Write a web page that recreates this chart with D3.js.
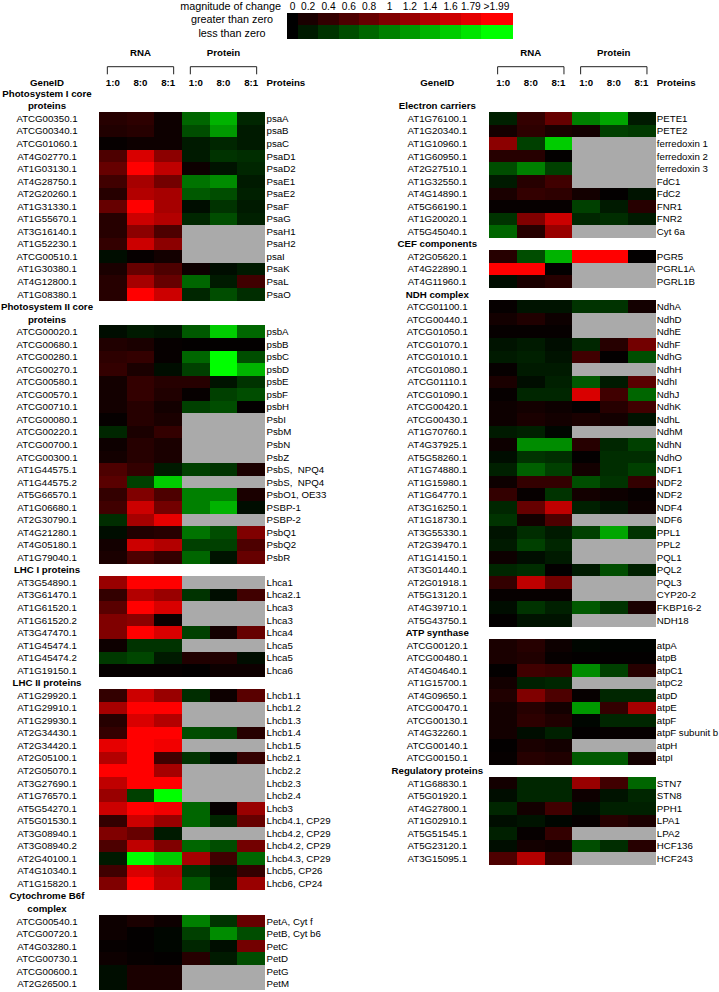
<!DOCTYPE html>
<html>
<head>
<meta charset="utf-8">
<script src="https://cdnjs.cloudflare.com/ajax/libs/d3/7.8.5/d3.min.js"></script>
<style>
  body { margin: 0; background: #fff; }
  text { font-family: "Liberation Sans", Arial, sans-serif; fill: #000; }
</style>
</head>
<body>
<div id="chart"></div>
<script>
// legend
const legendLabels = ["0", "0.2", "0.4", "0.6", "0.8", "1", "1.2", "1.4", "1.6", "1.79", ">1.99"];
const legendValues = [0, 0.2, 0.4, 0.6, 0.8, 1, 1.2, 1.4, 1.6, 1.79, 2];
const conditions = ["1:0", "8:0", "8:1"];

// left panel
const leftTitles = [["Photosystem I core", "proteins"], ["Photosystem II core", "proteins"], ["LHC I proteins"], ["LHC II proteins"], ["Cytochrome B6f", "complex"]];
const leftSizes = [15, 19, 8, 16, 6];
const leftGenes = [
  "ATCG00350.1", "ATCG00340.1", "ATCG01060.1", "AT4G02770.1", "AT1G03130.1", "AT4G28750.1", "AT2G20260.1", "AT1G31330.1", "AT1G55670.1", "AT3G16140.1", "AT1G52230.1", "ATCG00510.1", "AT1G30380.1", "AT4G12800.1", "AT1G08380.1",
  "ATCG00020.1", "ATCG00680.1", "ATCG00280.1", "ATCG00270.1", "ATCG00580.1", "ATCG00570.1", "ATCG00710.1", "ATCG00080.1", "ATCG00220.1", "ATCG00700.1", "ATCG00300.1", "AT1G44575.1", "AT1G44575.2", "AT5G66570.1", "AT1G06680.1", "AT2G30790.1", "AT4G21280.1", "AT4G05180.1", "AT1G79040.1",
  "AT3G54890.1", "AT3G61470.1", "AT1G61520.1", "AT1G61520.2", "AT3G47470.1", "AT1G45474.1", "AT1G45474.2", "AT1G19150.1",
  "AT1G29920.1", "AT1G29910.1", "AT1G29930.1", "AT2G34430.1", "AT2G34420.1", "AT2G05100.1", "AT2G05070.1", "AT3G27690.1", "AT1G76570.1", "AT5G54270.1", "AT5G01530.1", "AT3G08940.1", "AT3G08940.2", "AT2G40100.1", "AT4G10340.1", "AT1G15820.1",
  "ATCG00540.1", "ATCG00720.1", "AT4G03280.1", "ATCG00730.1", "ATCG00600.1", "AT2G26500.1"
];
const leftNames = [
  "psaA", "psaB", "psaC", "PsaD1", "PsaD2", "PsaE1", "PsaE2", "PsaF", "PsaG", "PsaH1", "PsaH2", "psaI", "PsaK", "PsaL", "PsaO",
  "psbA", "psbB", "psbC", "psbD", "psbE", "psbF", "psbH", "PsbI", "PsbM", "PsbN", "PsbZ", "PsbS,  NPQ4", "PsbS,  NPQ4", "PsbO1, OE33", "PSBP-1", "PSBP-2", "PsbQ1", "PsbQ2", "PsbR",
  "Lhca1", "Lhca2.1", "Lhca3", "Lhca3", "Lhca4", "Lhca5", "Lhca5", "Lhca6",
  "Lhcb1.1", "Lhcb1.2", "Lhcb1.3", "Lhcb1.4", "Lhcb1.5", "Lhcb2.1", "Lhcb2.2", "Lhcb2.3", "Lhcb2.4", "Lhcb3", "Lhcb4.1, CP29", "Lhcb4.2, CP29", "Lhcb4.2, CP29", "Lhcb4.3, CP29", "Lhcb5, CP26", "Lhcb6, CP24",
  "PetA, Cyt f", "PetB, Cyt b6", "PetC", "PetD", "PetG", "PetM"
];
const leftRna = [
  [0.3, 0.35, 0.1], [0.25, 0.3, 0.1], [0.05, 0.1, 0.1], [0.6, 1.7, 1.1], [0.8, 2.0, 1.5], [0.5, 1.3, 0.9], [0.3, 1.4, 1.3], [0.8, 2.0, 1.3], [0.3, 1.6, 1.4], [0.3, 1.1, 0.6], [0.4, 1.6, 1.1], [-0.1, 0.05, 0.15], [0.2, 0.8, 0.6], [0.3, 1.3, 0.8], [0.3, 2.0, 1.6],
  [-0.1, -0.2, -0.15], [0.25, 0.2, 0.05], [0.35, 0.4, 0.05], [0.4, 0.2, -0.1], [0.15, 0.4, 0.3], [0.15, 0.4, 0.25], [0.15, 0.3, 0.15], [0.05, 0.3, 0.2], [-0.3, 0.2, 0.4], [0.1, 0.3, 0.2], [0.15, 0.3, 0.2], [0.6, 0.4, -0.2], [0.7, -0.5, -1.6], [0.4, 1.0, 0.6], [0.5, 1.6, 0.9], [-0.35, 1.3, 1.8], [-0.1, 0.25, 0.3], [0.15, 1.6, 1.4], [0.2, 0.6, 0.4],
  [1.2, 2.0, 2.0], [0.4, 1.4, 1.2], [0.7, 2.0, 1.7], [1.0, 1.1, 0.1], [1.0, 2.0, 1.7], [0.1, -0.4, -0.4], [-0.45, -0.55, -0.2], [0.05, 0.05, 0.05],
  [0.4, 1.6, 1.2], [1.3, 2.0, 2.0], [0.3, 1.7, 1.4], [0.4, 2.0, 2.0], [1.8, 2.0, 1.9], [1.4, 2.0, 0.5], [2.0, 2.0, 1.3], [1.5, 2.0, 2.0], [1.2, -0.5, -2.0], [1.6, 2.0, 1.9], [0.4, 1.6, 1.2], [1.0, 0.8, -0.2], [0.6, 1.5, 1.0], [-0.2, -2.0, -1.6], [0.5, 1.7, 1.4], [1.0, 2.0, 1.5],
  [0.1, 0.2, 0.1], [0.1, 0.02, -0.05], [0.05, 0.02, -0.05], [0.1, 0.05, 0.02], [-0.1, 0.2, 0.2], [-0.1, 0.2, 0.2]
];
const leftProtein = [
  [-0.8, -1.4, -0.3], [-0.6, -1.2, -0.2], [-0.2, -0.3, -0.2], [-0.2, -0.4, -0.35], [0.1, -0.15, -0.3], [-0.9, -1.1, -0.2], [-0.7, -0.6, -0.25], [-0.1, -0.4, -0.2], [-0.3, -0.6, -0.25], null, null, null, [0.1, -0.1, -0.2], [-0.8, -0.2, 0.5], [-0.3, -0.6, -0.35],
  [-0.7, -1.6, -0.8], [0.02, 0.02, 0.02], [-0.8, -2.0, -0.6], [-0.5, -2.0, -1.4], [0.3, -0.15, -0.4], [0.05, -0.5, -0.6], [-0.5, -0.6, 0.02], null, null, null, null, [-0.5, -0.4, 0.2], null, [-1.0, -1.0, 0.2], [-1.0, -1.4, -0.1], null, [-0.9, -0.6, 1.0], [-0.5, -0.5, 0.6], [-0.8, -0.15, 0.8],
  null, [-0.4, -0.1, 0.5], null, null, [-0.5, 0.15, 0.8], null, [0.25, 0.25, -0.1], [0.02, 0.1, 0.1],
  [-0.35, 0.1, 0.7], null, null, [-0.6, -0.5, 0.3], null, [-0.4, -0.05, 0.4], null, null, null, [-0.8, 0.05, 1.2], [-0.8, -0.3, 0.8], null, [-0.8, -0.6, 0.9], [1.3, 0.5, -0.8], [-0.4, -0.15, 0.4], [-0.7, -0.2, 1.2],
  [-1.0, -0.4, 0.8], [-0.5, -1.1, -0.6], [-0.3, -0.1, 0.9], [0.3, -0.2, -0.6], null, null
];

// right panel
const rightTitles = [["Electron carriers"], ["CEF components"], ["NDH complex"], ["ATP synthase"], ["Regulatory proteins"]];
const rightSizes = [10, 3, 26, 10, 7];
const rightGenes = [
  "AT1G76100.1", "AT1G20340.1", "AT1G10960.1", "AT1G60950.1", "AT2G27510.1", "AT1G32550.1", "AT4G14890.1", "AT5G66190.1", "AT1G20020.1", "AT5G45040.1",
  "AT2G05620.1", "AT4G22890.1", "AT4G11960.1",
  "ATCG01100.1", "ATCG00440.1", "ATCG01050.1", "ATCG01070.1", "ATCG01010.1", "ATCG01080.1", "ATCG01110.1", "ATCG01090.1", "ATCG00420.1", "ATCG00430.1", "AT1G70760.1", "AT4G37925.1", "AT5G58260.1", "AT1G74880.1", "AT1G15980.1", "AT1G64770.1", "AT3G16250.1", "AT1G18730.1", "AT3G55330.1", "AT2G39470.1", "AT1G14150.1", "AT3G01440.1", "AT2G01918.1", "AT5G13120.1", "AT4G39710.1", "AT5G43750.1",
  "ATCG00120.1", "ATCG00480.1", "AT4G04640.1", "AT1G15700.1", "AT4G09650.1", "ATCG00470.1", "ATCG00130.1", "AT4G32260.1", "ATCG00140.1", "ATCG00150.1",
  "AT1G68830.1", "AT5G01920.1", "AT4G27800.1", "AT1G02910.1", "AT5G51545.1", "AT5G23120.1", "AT3G15095.1"
];
const rightNames = [
  "PETE1", "PETE2", "ferredoxin 1", "ferredoxin 2", "ferredoxin 3", "FdC1", "FdC2", "FNR1", "FNR2", "Cyt 6a",
  "PGR5", "PGRL1A", "PGRL1B",
  "NdhA", "NdhD", "NdhE", "NdhF", "NdhG", "NdhH", "NdhI", "NdhJ", "NdhK", "NdhL", "NdhM", "NdhN", "NdhO", "NDF1", "NDF2", "NDF2", "NDF4", "NDF6", "PPL1", "PPL2", "PQL1", "PQL2", "PQL3", "CYP20-2", "FKBP16-2", "NDH18",
  "atpA", "atpB", "atpC1", "atpC2", "atpD", "atpE", "atpF", "atpF subunit b", "atpH", "atpI",
  "STN7", "STN8", "PPH1", "LPA1", "LPA2", "HCF136", "HCF243"
];
const rightRna = [
  [-0.25, 0.4, 0.8], [0.15, 0.35, 0.2], [1.1, -0.5, -1.6], [0.3, 0.3, 0.02], [-0.6, -1.0, -0.5], [-0.2, 0.3, 0.5], [0.2, 0.4, 0.35], [0.05, 0.05, 0.05], [-0.4, 1.0, 1.6], [-0.8, 0.3, 1.2],
  [0.3, -0.6, -1.4], [2.0, 2.0, 0.02], [-0.1, 0.2, 0.3],
  [0.05, -0.15, -0.15], [0.15, 0.25, 0.1], [0.05, 0.05, 0.05], [-0.15, -0.2, -0.1], [-0.2, -0.25, -0.15], [0.05, -0.2, -0.2], [0.2, -0.1, -0.25], [0.05, -0.3, -0.3], [0.1, 0.15, 0.1], [0.1, 0.2, 0.15], [-0.2, -0.25, -0.05], [0.1, -1.1, -1.1], [-0.1, -0.4, -0.35], [-0.25, -0.75, -0.5], [0.1, 0.4, 0.4], [0.4, 0.05, -0.4], [-0.3, 0.8, 1.5], [-0.4, 0.15, 0.6], [-0.15, -0.35, -0.2], [-0.2, -0.5, -0.3], [0.1, -0.1, -0.2], [-0.3, -0.35, 0.02], [0.4, 1.5, 0.9], [0.05, 0.05, 0.05], [-0.1, -0.4, -0.25], [0.02, -0.15, -0.15],
  [0.2, 0.3, 0.1], [0.2, 0.25, 0.05], [0.02, 0.5, 0.45], [0.15, -0.25, -0.3], [0.25, 1.0, 0.6], [0.15, 0.3, 0.15], [0.15, 0.35, 0.25], [0.15, -0.1, -0.25], [0.02, 0.2, 0.15], [0.05, 0.3, 0.25],
  [0.15, -0.3, -0.3], [-0.1, -0.3, -0.3], [-0.3, 0.15, 0.5], [-0.1, -0.15, -0.05], [-0.25, 0.05, 0.4], [-0.1, 0.15, 0.1], [0.6, 1.4, 0.4]
];
const rightProtein = [
  [-1.0, -1.3, -0.2], [0.15, -0.5, -0.45], null, null, null, null, [0.15, 0.02, -0.15], [-0.5, -0.2, 0.3], [-0.3, -0.35, -0.2], null,
  [2.0, 2.0, 0.02], null, null,
  [-0.4, -0.4, 0.15], null, null, [-0.3, 0.3, 0.9], [0.5, 0.02, -0.6], null, [-0.7, -0.2, 0.7], [1.7, 0.5, -0.8], [0.02, 0.3, 0.5], [0.2, 0.15, -0.15], null, [0.3, -0.3, -0.5], [0.02, -0.35, -0.35], [0.15, -0.35, -0.5], [-0.6, -0.4, 0.4], [0.15, 0.1, 0.05], [-0.25, -0.15, 0.1], null, [-0.5, -1.3, -0.4], null, null, [-0.2, -0.6, -0.25], null, null, [-0.7, -0.4, 0.2], null,
  [-0.05, -0.02, -0.02], [0.02, 0.02, 0.02], [-1.1, -0.5, 0.3], null, [0.05, -0.3, -0.3], [-1.2, 0.4, 1.3], [-0.05, -0.3, -0.3], [0.02, 0.05, 0.05], null, [-0.7, -0.7, 0.15],
  [1.2, 0.5, -0.8], [0.1, -0.15, -0.3], [-0.1, -0.25, -0.25], [0.05, 0.3, 0.2], null, [-0.6, -0.35, 0.3], null
];

(function() {
    var width = 719, height = 992;
    var rowH = 12.54, gridTop = 87.2, nLines = 72;
    var fontSize = 9.7;

    var svg = d3.select("#chart").append("svg")
        .attr("width", width)
        .attr("height", height);

    var color = d3.scaleLinear()
        .domain([-2, 0, 2])
        .range(["#00ff00", "#000000", "#ff0000"])
        .clamp(true);

    var y = d3.scaleBand()
        .domain(d3.range(nLines))
        .range([gridTop, gridTop + nLines * rowH]);

    // ---- legend ----
    // cell edges: narrow first step, wide last step, even in between
    var edge = d3.scaleLinear().domain([0, 1, 10, 11]).range([287, 298, 481, 512]);
    var legend = svg.append("g");
    legend.selectAll("rect.pos")
        .data(legendValues)
        .enter().append("rect")
        .attr("x", (d, i) => edge(i))
        .attr("y", 12.7)
        .attr("width", (d, i) => edge(i + 1) - edge(i) + 0.5)
        .attr("height", 12.5)
        .attr("fill", d => color(d))
        .attr("shape-rendering", "crispEdges");
    legend.selectAll("rect.neg")
        .data(legendValues)
        .enter().append("rect")
        .attr("x", (d, i) => edge(i))
        .attr("y", 25.2)
        .attr("width", (d, i) => edge(i + 1) - edge(i) + 0.5)
        .attr("height", 13.6)
        .attr("fill", d => color(-d))
        .attr("shape-rendering", "crispEdges");
    legend.selectAll("text.tick")
        .data(legendLabels)
        .enter().append("text")
        .attr("x", (d, i) => (edge(i) + edge(i + 1)) / 2)
        .attr("y", 6)
        .attr("dy", "0.35em")
        .attr("text-anchor", "middle")
        .style("font-size", "10.2px")
        .text(d => d);
    legend.append("text").attr("x", 281).attr("y", 6).attr("dy", "0.35em")
        .attr("text-anchor", "end").style("font-size", "10.8px").text("magnitude of change");
    legend.append("text").attr("x", 232).attr("y", 19).attr("dy", "0.35em")
        .attr("text-anchor", "middle").style("font-size", "10.8px").text("greater than zero");
    legend.append("text").attr("x", 232).attr("y", 33).attr("dy", "0.35em")
        .attr("text-anchor", "middle").style("font-size", "10.8px").text("less than zero");

    function drawPanel(p) {
        var g = svg.append("g");
        var x = d3.scaleBand().domain(d3.range(6)).range([p.x0, p.x0 + 166]);
        var geneX = p.x0 - 52;
        var nameX = p.x0 + 166 + 1.5;

        // headers
        var groups = [{label: "RNA", cols: [0, 1, 2]}, {label: "Protein", cols: [3, 4, 5]}];
        groups.forEach(function(gr) {
            var a = x(gr.cols[0]) + x.bandwidth() / 2 - 5.5;
            var b = x(gr.cols[2]) + x.bandwidth() / 2 + 5.5;
            g.append("path")
                .attr("d", "M" + a + ",74.3V66.7H" + b + "V74.3")
                .attr("fill", "none")
                .attr("stroke", "#222")
                .attr("stroke-width", 1);
            g.append("text")
                .attr("x", (a + b) / 2).attr("y", 53).attr("dy", "0.35em")
                .attr("text-anchor", "middle")
                .style("font-size", fontSize + "px").style("font-weight", "bold")
                .text(gr.label);
            gr.cols.forEach(function(c, i) {
                g.append("text")
                    .attr("x", x(c) + x.bandwidth() / 2).attr("y", 82.3).attr("dy", "0.35em")
                    .attr("text-anchor", "middle")
                    .style("font-size", fontSize + "px").style("font-weight", "bold")
                    .text(conditions[i]);
            });
        });
        g.append("text").attr("x", geneX).attr("y", 82.3).attr("dy", "0.35em")
            .attr("text-anchor", "middle")
            .style("font-size", fontSize + "px").style("font-weight", "bold")
            .text("GeneID");
        g.append("text").attr("x", nameX).attr("y", 82.3).attr("dy", "0.35em")
            .style("font-size", fontSize + "px").style("font-weight", "bold")
            .text("Proteins");

        // lay rows out on the line grid
        var line = p.skip, r = 0, rows = [], titles = [];
        p.titles.forEach(function(t, s) {
            t.forEach(function(txt) { titles.push({text: txt, line: line++}); });
            for (var k = 0; k < p.sizes[s]; k++) {
                rows.push({line: line++, gene: p.genes[r], name: p.names[r], rna: p.rna[r], prot: p.protein[r]});
                r++;
            }
        });

        var cells = [];
        rows.forEach(function(row) {
            for (var c = 0; c < 6; c++) {
                var v = c < 3 ? row.rna[c] : (row.prot ? row.prot[c - 3] : null);
                cells.push({line: row.line, col: c, value: v});
            }
        });

        g.selectAll("rect.cell")
            .data(cells)
            .enter().append("rect")
            .attr("class", "cell")
            .attr("x", d => x(d.col))
            .attr("y", d => y(d.line))
            .attr("width", x.bandwidth() + 0.4)
            .attr("height", y.bandwidth() + 0.4)
            .attr("fill", d => d.value === null ? "#aaaaaa" : color(d.value))
            .attr("shape-rendering", "crispEdges");

        g.selectAll("text.title")
            .data(titles)
            .enter().append("text")
            .attr("x", geneX)
            .attr("y", d => y(d.line) + y.bandwidth() / 2)
            .attr("dy", "0.35em")
            .attr("text-anchor", "middle")
            .style("font-size", fontSize + "px").style("font-weight", "bold")
            .text(d => d.text);

        g.selectAll("text.gene")
            .data(rows)
            .enter().append("text")
            .attr("x", geneX)
            .attr("y", d => y(d.line) + y.bandwidth() / 2)
            .attr("dy", "0.35em")
            .attr("text-anchor", "middle")
            .style("font-size", fontSize + "px")
            .text(d => d.gene);

        g.selectAll("text.name")
            .data(rows)
            .enter().append("text")
            .attr("x", nameX)
            .attr("y", d => y(d.line) + y.bandwidth() / 2)
            .attr("dy", "0.35em")
            .style("font-size", fontSize + "px")
            .style("white-space", "pre")
            .attr("xml:space", "preserve")
            .text(d => d.name);
    }

    drawPanel({x0: 99, skip: 0, titles: leftTitles, sizes: leftSizes, genes: leftGenes, names: leftNames, rna: leftRna, protein: leftProtein});
    drawPanel({x0: 489.3, skip: 1, titles: rightTitles, sizes: rightSizes, genes: rightGenes, names: rightNames, rna: rightRna, protein: rightProtein});
})();
</script>
</body>
</html>
